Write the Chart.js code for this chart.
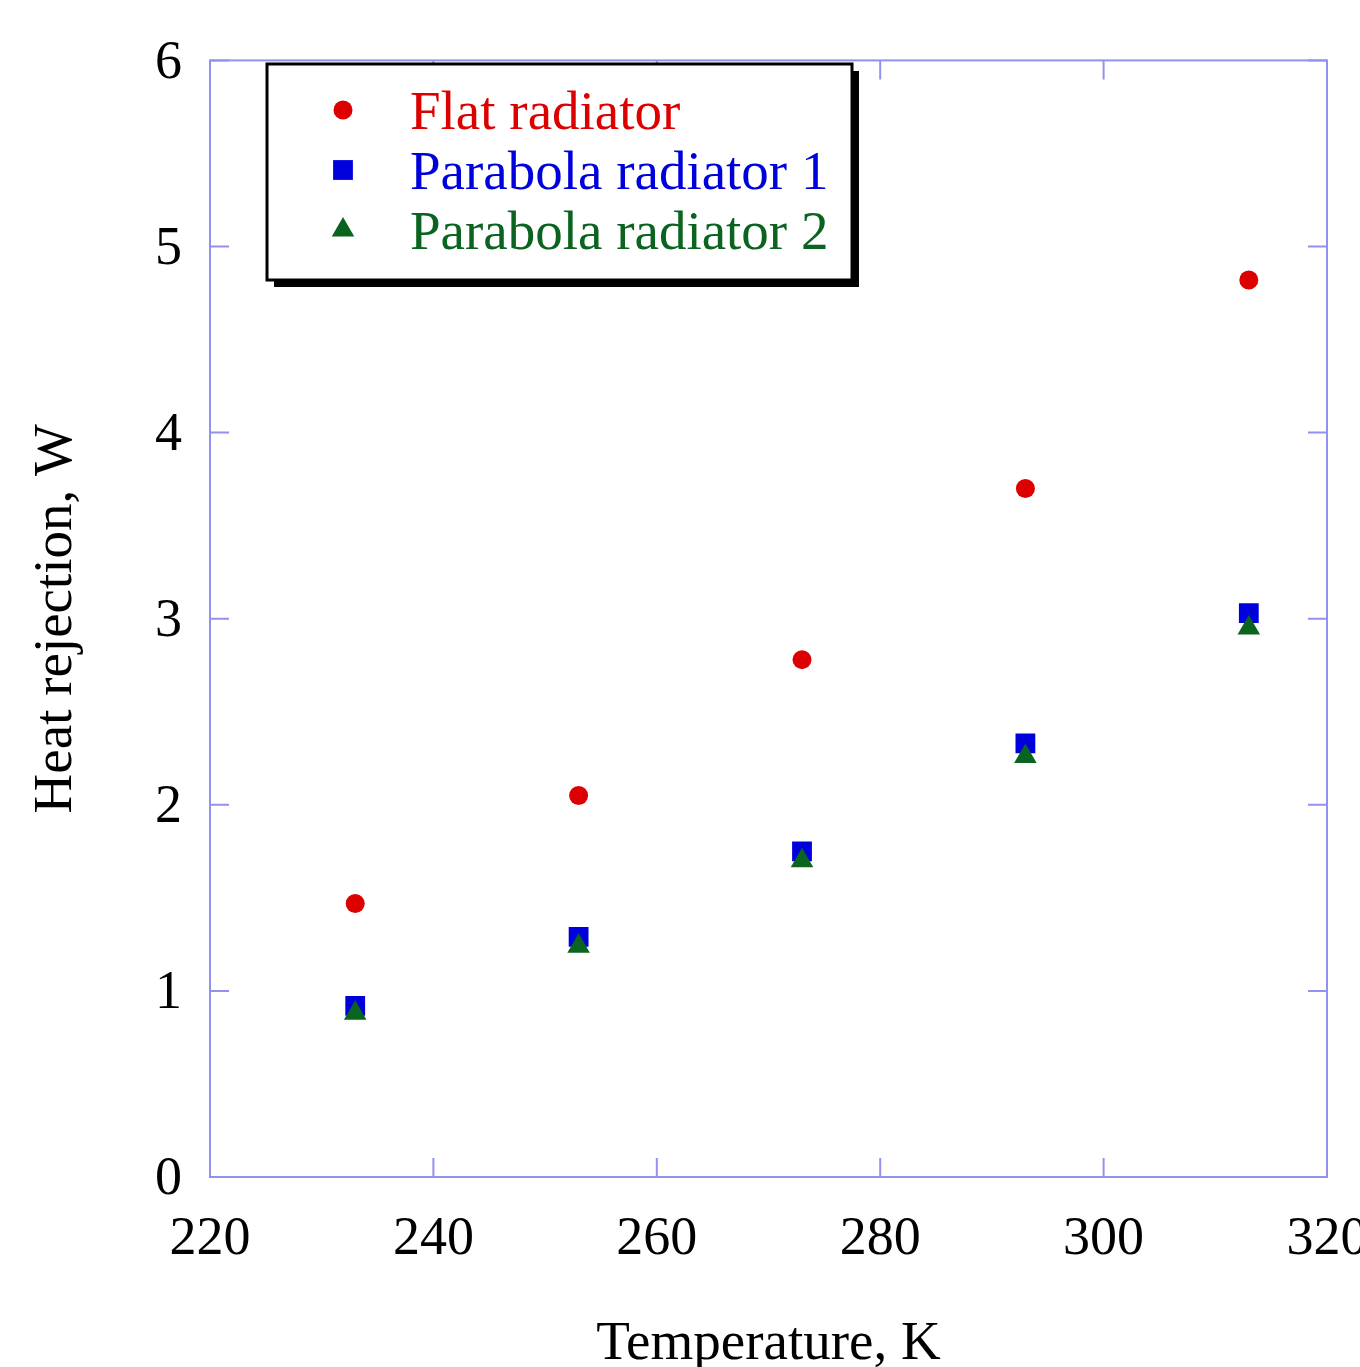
<!DOCTYPE html>
<html lang="en">
<head>
  <meta charset="UTF-8">
  <title>Heat rejection vs temperature</title>
  <script src="https://cdn.jsdelivr.net/npm/chart.js"></script>
  <style>
    html, body {
      margin: 0;
      padding: 0;
      background: #fff;
      overflow: hidden;
    }
    #wrap {
      position: absolute;
      left: 0;
      top: 0;
      width: 1400px;
      height: 1400px;
    }
  </style>
</head>
<body>
  <div id="wrap"><canvas id="heatChart"></canvas></div>

  <script>
    // data
    var temps = [233, 253, 273, 293, 313];
    var flatRadiator = [1.47, 2.05, 2.78, 3.70, 4.82];
    var parabola1 = [0.92, 1.29, 1.75, 2.33, 3.03];
    var parabola2 = [0.88, 1.24, 1.70, 2.26, 2.95];

    var xTicks = [220, 240, 260, 280, 300, 320];
    var yTicks = [0, 1, 2, 3, 4, 5, 6];

    var seriesNames = ['Flat radiator', 'Parabola radiator 1', 'Parabola radiator 2'];
    var seriesColors = ['#dd0000', '#0000dd', '#0a6420'];

    var FRAME = '#9292ee';
    var SERIF = '"Liberation Serif", "DejaVu Serif", serif';

    function points(ys) {
      return temps.map(function (t, i) { return { x: t, y: ys[i] }; });
    }

    // frame, inward ticks on all four sides, and the boxed legend
    var framePlugin = {
      id: 'frame',
      afterDraw: function (chart) {
        var c = chart.ctx;
        var a = chart.chartArea;
        var xs = chart.scales.x, ys = chart.scales.y;
        var tl = 19;
        c.save();
        c.strokeStyle = FRAME;
        c.lineWidth = 2;
        c.strokeRect(a.left, a.top, a.right - a.left, a.bottom - a.top);
        c.beginPath();
        xTicks.forEach(function (v) {
          var px = xs.getPixelForValue(v);
          c.moveTo(px, a.bottom); c.lineTo(px, a.bottom - tl);
          c.moveTo(px, a.top); c.lineTo(px, a.top + tl);
        });
        yTicks.forEach(function (v) {
          var py = ys.getPixelForValue(v);
          c.moveTo(a.left, py); c.lineTo(a.left + tl, py);
          c.moveTo(a.right, py); c.lineTo(a.right - tl, py);
        });
        c.stroke();

        // legend box with drop shadow
        var bx = 267, by = 64, bw = 585, bh = 216;
        c.fillStyle = '#000';
        c.fillRect(bx + 7, by + 7, bw, bh);
        c.fillStyle = '#fff';
        c.fillRect(bx, by, bw, bh);
        c.strokeStyle = '#000';
        c.lineWidth = 3;
        c.strokeRect(bx, by, bw, bh);

        var styles = ['circle', 'rect', 'triangle'];
        var radii = [9.5, 14, 13];
        c.font = '55px ' + SERIF;
        c.textBaseline = 'middle';
        c.textAlign = 'left';
        for (var i = 0; i < 3; i++) {
          var ly = 112 + i * 60;
          c.fillStyle = seriesColors[i];
          Chart.helpers.drawPoint(c, {
            pointStyle: styles[i], radius: radii[i], rotation: 0, borderWidth: 0
          }, 343, ly - 2);
          c.fillText(seriesNames[i], 410, ly + 3);
        }
        c.restore();
      }
    };

    var ctx = document.getElementById('heatChart').getContext('2d');

    new Chart(ctx, {
      type: 'scatter',
      data: {
        datasets: [{
          label: seriesNames[0],
          data: points(flatRadiator),
          pointStyle: 'circle',
          pointRadius: 9.5,
          backgroundColor: seriesColors[0],
          borderWidth: 0,
          order: 2
        }, {
          label: seriesNames[1],
          data: points(parabola1),
          pointStyle: 'rect',
          pointRadius: 14,
          backgroundColor: seriesColors[1],
          borderWidth: 0,
          order: 1
        }, {
          label: seriesNames[2],
          data: points(parabola2),
          pointStyle: 'triangle',
          pointRadius: 13,
          backgroundColor: seriesColors[2],
          borderWidth: 0,
          order: 0
        }]
      },
      options: {
        responsive: true,
        maintainAspectRatio: false,
        animation: false,
        layout: {
          padding: { left: 0, top: 60, right: 73, bottom: 0 }
        },
        plugins: {
          legend: { display: false },
          tooltip: { enabled: false }
        },
        scales: {
          x: {
            type: 'linear',
            min: 220,
            max: 320,
            afterBuildTicks: function (s) {
              s.ticks = xTicks.map(function (v) { return { value: v }; });
            },
            afterFit: function (s) { s.height = 223; },
            grid: { display: false, drawTicks: false },
            border: { display: false },
            ticks: {
              color: '#000',
              padding: 30,
              maxRotation: 0,
              font: { family: SERIF, size: 54 }
            },
            title: {
              display: true,
              text: 'Temperature, K',
              color: '#000',
              padding: { top: 0, bottom: 22 },
              font: { family: SERIF, size: 55 }
            }
          },
          y: {
            type: 'linear',
            min: 0,
            max: 6,
            afterBuildTicks: function (s) {
              s.ticks = yTicks.map(function (v) { return { value: v }; });
            },
            afterFit: function (s) { s.width = 210; },
            grid: { display: false, drawTicks: false },
            border: { display: false },
            ticks: {
              color: '#000',
              padding: 28,
              labelOffset: 3,
              font: { family: SERIF, size: 54 }
            },
            title: {
              display: true,
              text: 'Heat rejection, W',
              color: '#000',
              padding: { top: 24, bottom: 0 },
              font: { family: SERIF, size: 55 }
            }
          }
        }
      },
      plugins: [framePlugin]
    });
  </script>
</body>
</html>
